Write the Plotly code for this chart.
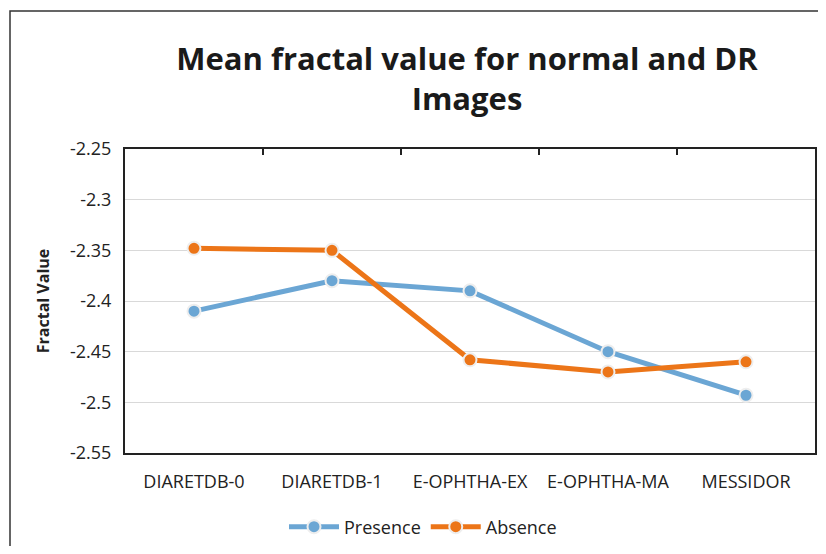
import plotly.graph_objects as go

categories = ["DIARETDB-0", "DIARETDB-1", "E-OPHTHA-EX", "E-OPHTHA-MA", "MESSIDOR"]
presence = [-2.41, -2.38, -2.39, -2.45, -2.493]
absence = [-2.348, -2.35, -2.458, -2.47, -2.46]
y_ticks = [-2.25, -2.3, -2.35, -2.4, -2.45, -2.5, -2.55]
y_tick_labels = ["-2.25", "-2.3", "-2.35", "-2.4", "-2.45", "-2.5", "-2.55"]

BLUE = "#6BA6D4"
ORANGE = "#EC7518"
FONT = "Open Sans"

x_idx = list(range(len(categories)))

fig = go.Figure()
fig.add_trace(go.Scatter(
    x=x_idx, y=presence, name="Presence", mode="lines+markers",
    line=dict(color=BLUE, width=5),
    marker=dict(size=13, color=BLUE, line=dict(color="#EEEEEE", width=2)),
))
fig.add_trace(go.Scatter(
    x=x_idx, y=absence, name="Absence", mode="lines+markers",
    line=dict(color=ORANGE, width=5),
    marker=dict(size=13, color=ORANGE, line=dict(color="#EEEEEE", width=2)),
))
# invisible trace on top axis for boundary tick marks
fig.add_trace(go.Scatter(x=[-0.5, 4.5], y=[-2.25, -2.25], xaxis="x2", mode="none",
                         showlegend=False, hoverinfo="skip"))

# page body has an 8px margin; keep the figure inside the window
OFF = 8
W, H = 826 - OFF, 554 - 2 * OFF
L, T = 125 - OFF, 149 - OFF
pw, ph = 690, 304
R = W - L - pw
B = H - T - ph
plot_bottom = T + ph

fig.update_layout(
    width=W, height=H,
    margin=dict(l=L, r=R, t=T, b=B, autoexpand=False),
    paper_bgcolor="white", plot_bgcolor="white",
    font=dict(family=FONT, color="#222222"),
    title=dict(text="<b>Mean fractal value for normal and DR<br>Images</b>",
               x=(467 - OFF - L) / pw, xref="paper", xanchor="center",
               y=1 - (70 - OFF) / H, yanchor="middle",
               font=dict(size=31, family=FONT, color="#1a1a1a")),
    xaxis=dict(range=[-0.5, 4.5], tickvals=x_idx, ticktext=categories,
               showgrid=False, zeroline=False, ticks="", showline=True,
               linecolor="#222222", linewidth=2, mirror=True,
               tickfont=dict(size=18, family=FONT, color="#222222"),
               ticklabelstandoff=11),
    xaxis2=dict(range=[-0.5, 4.5], overlaying="x", side="top",
                tickvals=[0.5, 1.5, 2.5, 3.5], showticklabels=False,
                ticks="inside", ticklen=6, tickwidth=1.5, tickcolor="#222222",
                showgrid=False, zeroline=False, showline=False),
    yaxis=dict(range=[-2.55, -2.25], tickvals=y_ticks, ticktext=y_tick_labels,
               showgrid=True, gridcolor="#D9D9D9", gridwidth=1, zeroline=False,
               showline=True, linecolor="#222222", linewidth=2, mirror=True,
               ticks="", tickfont=dict(size=18, family=FONT, color="#222222"),
               ticklabelstandoff=8,
               title=dict(text="<b>Fractal Value</b>", standoff=16,
                          font=dict(size=16, family=FONT, color="#222222"))),
    legend=dict(orientation="h", x=(423 - OFF - L) / pw, xanchor="center",
                y=-(527 - OFF - plot_bottom) / ph, yanchor="middle",
                font=dict(size=18, family=FONT, color="#222222"),
                itemwidth=50),
    showlegend=True,
)

# outer chart frame: only left and top edges are visible in the window
fx0 = (10 - OFF - L) / pw
fx1 = (W + 40 - L) / pw
fy0 = -(H + 40 - plot_bottom) / ph
fy1 = (plot_bottom - (11 - OFF)) / ph
fig.add_shape(type="path", xref="paper", yref="paper",
              path=f"M {fx0},{fy0} L {fx0},{fy1} L {fx1},{fy1}",
              line=dict(color="#333333", width=1.5), layer="below")

fig.write_html("out.html")
